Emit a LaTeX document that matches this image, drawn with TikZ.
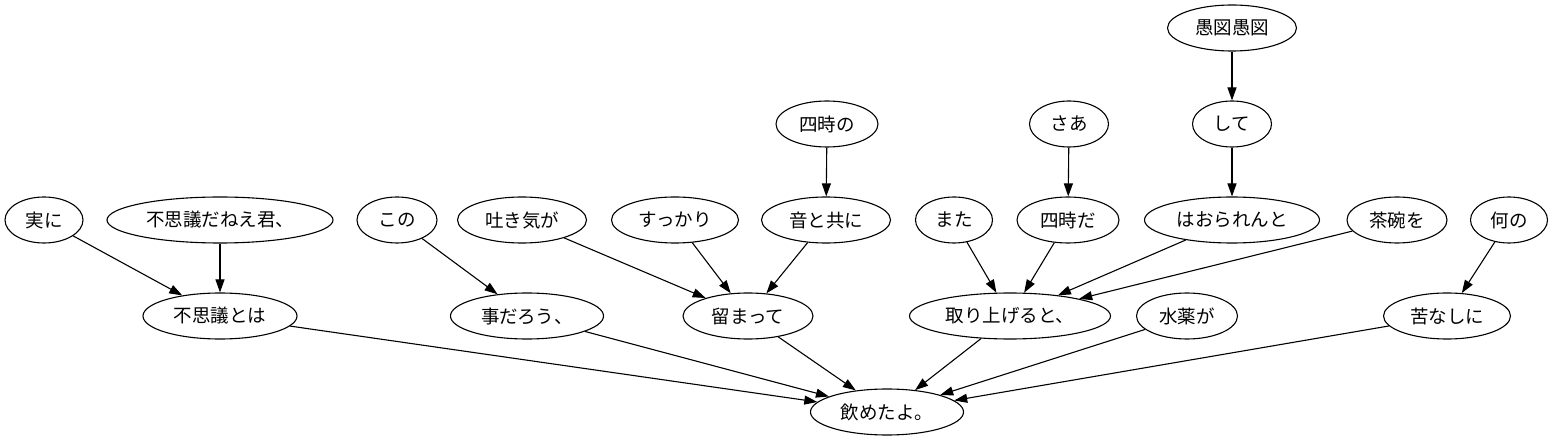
\documentclass[tikz,border=0pt]{standalone}
\usepackage{fontspec}
\newfontfamily\jpfont{Noto Sans CJK JP}
\usetikzlibrary{shapes.geometric,arrows.meta}

\begin{document}
\begin{tikzpicture}[x=1pt,y=-1pt,line width=1.1pt,>={Triangle[length=13pt,width=9pt]}]
\tikzstyle{word}=[ellipse,draw=black,inner sep=0pt,minimum height=46pt,font=\jpfont\fontsize{18.5}{20}\selectfont]

\useasboundingbox (0,0) rectangle (1555,443);

\node[word,minimum width=78pt] (w1) at (44,220) {実に};
\node[word,minimum width=226pt] (w2) at (220,220) {不思議だねえ君、};
\node[word,minimum width=154pt] (w3) at (220,316) {不思議とは};
\node[word,minimum width=80pt] (w4) at (397,220) {この};
\node[word,minimum width=153pt] (w5) at (527,316) {事だろう、};
\node[word,minimum width=129pt] (w6) at (522,220) {吐き気が};
\node[word,minimum width=127pt] (w7) at (675,220) {すっかり};
\node[word,minimum width=102pt] (w8) at (827,124) {四時の};
\node[word,minimum width=129pt] (w9) at (826,220) {音と共に};
\node[word,minimum width=130pt] (w10) at (748,316) {留まって};
\node[word,minimum width=77pt] (w11) at (954,220) {また};
\node[word,minimum width=79pt] (w12) at (1069,124) {さあ};
\node[word,minimum width=102pt] (w13) at (1068,220) {四時だ};
\node[word,minimum width=129pt] (w14) at (1232,28) {愚図愚図};
\node[word,minimum width=79pt] (w15) at (1232,124) {して};
\node[word,minimum width=175pt] (w16) at (1232,220) {はおられんと};
\node[word,minimum width=201pt] (w17) at (1010,316) {取り上げると、};
\node[word,minimum width=100pt] (w18) at (1397,220) {茶碗を};
\node[word,minimum width=101pt] (w19) at (1187,316) {水薬が};
\node[word,minimum width=77pt] (w20) at (1509,220) {何の};
\node[word,minimum width=127pt] (w21) at (1447,316) {苦なしに};
\node[word,minimum width=153pt] (w22) at (887,412) {飲めたよ。};

\draw[->] (w1) to (w3);
\draw[->] (w2) to (w3);
\draw[->] (w4) to (w5);
\draw[->] (w6) to (w10);
\draw[->] (w7) to (w10);
\draw[->] (w8) to (w9);
\draw[->] (w9) to (w10);
\draw[->] (w11) to (w17);
\draw[->] (w12) to (w13);
\draw[->] (w13) to (w17);
\draw[->] (w14) to (w15);
\draw[->] (w15) to (w16);
\draw[->] (w16) to (w17);
\draw[->] (w18) to (w17);
\draw[->] (w20) to (w21);

\draw[->] (w3) to (w22);
\draw[->] (w5) to (w22);
\draw[->] (w10) to (w22);
\draw[->] (w17) to (w22);
\draw[->] (w19) to (w22);
\draw[->] (w21) to (w22);

\end{tikzpicture}
\end{document}
